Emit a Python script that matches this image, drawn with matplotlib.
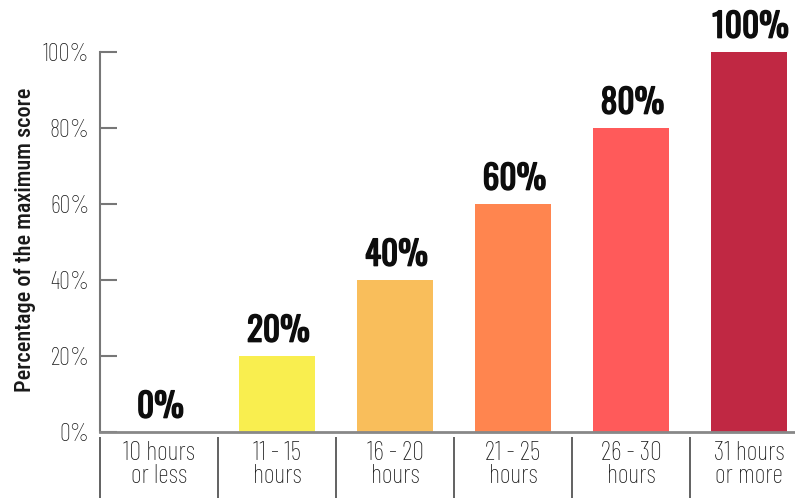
import matplotlib
matplotlib.use("Agg")
import matplotlib.pyplot as plt
import matplotlib.patheffects as pe
from matplotlib.transforms import blended_transform_factory

categories = ["10 hours\nor less", "11 - 15\nhours", "16 - 20\nhours",
              "21 - 25\nhours", "26 - 30\nhours", "31 hours\nor more"]
scores = [0, 20, 40, 60, 80, 100]
bar_colors = ["#FFFFFF", "#F9EE4F", "#F9BE5B", "#FF854F", "#FF5A5A", "#C02843"]
y_ticks = [0, 20, 40, 60, 80, 100]
y_tick_labels = [f"{v}%" for v in y_ticks]

LIGHT = "Barlow Condensed"
TITLE = "Roboto Condensed"
VALUE = "Oswald"

fig = plt.figure(figsize=(7.95, 4.98), dpi=100)
ax = fig.add_axes([100 / 795, 66 / 498, 695 / 795, 432 / 498])

x = list(range(len(categories)))
ax.bar(x, scores, width=0.645, color=bar_colors, zorder=2)

bold = [pe.withStroke(linewidth=1.0, foreground="#0d0d0d")]
for xi, v in zip(x, scores):
    ax.annotate(f"{v}%", (xi, v), xytext=(1, 6), textcoords="offset points",
                ha="center", va="bottom", fontsize=24, family=VALUE,
                color="#0d0d0d", path_effects=bold)

ax.set_xlim(-0.5, -0.5 + 695 / 118)
ax.set_ylim(0, 432 / 3.8)

ax.set_yticks(y_ticks)
ax.set_yticklabels(y_tick_labels, family=LIGHT, fontweight="light",
                   fontsize=17.5, color="#1a1a1a")
ax.tick_params(axis="y", direction="in", length=12.5, width=1.5,
               color="#777777", pad=7.5)
ax.set_xticks([])

for side in ("top", "right"):
    ax.spines[side].set_visible(False)
ax.spines["left"].set_bounds(0, 100)
ax.spines["left"].set_color("#777777")
ax.spines["left"].set_linewidth(1.5)
ax.spines["bottom"].set_color("#888888")
ax.spines["bottom"].set_linewidth(2)

fig.text(25 / 795, 1 - 240 / 498, "Percentage of the maximum score",
         rotation=90, ha="center", va="center", family=TITLE,
         fontweight="medium", fontsize=16, color="#1a1a1a")

# category labels sit below the baseline, separated by thin vertical rules
trans = blended_transform_factory(ax.transData, ax.transAxes)
for xi, label in zip(x, categories):
    ax.text(xi, -9 / 432, label, transform=trans, ha="center", va="top",
            family=LIGHT, fontweight="light", fontsize=19, color="#1a1a1a",
            linespacing=0.97, clip_on=False)
for k in range(len(categories)):
    ax.plot([k - 0.5, k - 0.5], [-5 / 432, -70 / 432], transform=trans,
            color="#555555", lw=1.3, clip_on=False, solid_capstyle="butt")

fig.savefig("out.png", dpi=100)
